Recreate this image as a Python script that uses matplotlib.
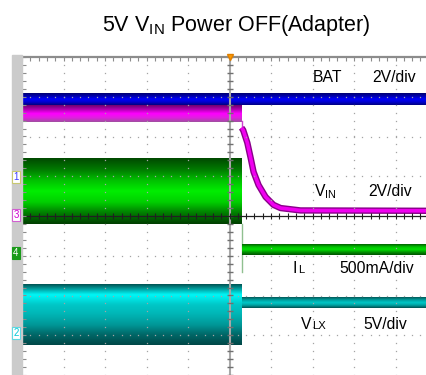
import numpy as np
import matplotlib.pyplot as plt
from matplotlib.colors import LinearSegmentedColormap
import matplotlib.patheffects as pe

plt.rcParams['font.family'] = ['Liberation Sans', 'DejaVu Sans']
plt.rcParams['mathtext.fontset'] = 'custom'
plt.rcParams['mathtext.rm'] = 'Liberation Sans'
plt.rcParams['mathtext.it'] = 'Liberation Sans:italic'

W, H = 427, 375

# Scope traces, in screen divisions (x: time div, y: volt div, 0 = centre)
t_switch = 0.29
bat_level = 2.94
vin_before = 2.58
vin_decay_t = [0.29, 0.33, 0.43, 0.51, 0.58, 0.70, 0.87, 1.06, 1.23, 1.71, 5.0]
vin_decay_v = [2.22, 2.16, 1.84, 1.46, 1.11, 0.78, 0.48, 0.28, 0.20, 0.14, 0.13]
il_before = (1.46, -0.20)     # noisy switching band: top, bottom
il_after = -0.86
vlx_before = (-1.74, -3.25)
vlx_after = -2.18

channel_labels = ['BAT', 'VIN', 'IL', 'VLX']
channel_scales = ['2V/div', '2V/div', '500mA/div', '5V/div']

fig = plt.figure(figsize=(W / 100, H / 100), dpi=100)
ax = fig.add_axes([22 / W, 0, (W - 22) / W, (H - 57) / H])
ax.set_xlim(-5, -5 + (W - 22) / 41.5)
ax.set_ylim(-4, 4)
ax.axis('off')


def band(t0, t1, top, bottom, colors, z=2):
    cmap = LinearSegmentedColormap.from_list('b', colors)
    grad = np.linspace(0, 1, 64).reshape(-1, 1)
    ax.imshow(grad, cmap=cmap, extent=[t0, t1, bottom, top], aspect='auto',
              interpolation='bilinear', origin='upper', zorder=z)


t_left, t_right = -5, 5

# BAT
band(t_left, t_right, bat_level + 0.15, bat_level - 0.15,
     ['#000070', '#0000b0', '#0000ff', '#0000d0', '#000080'], z=3)

# VIN
band(t_left, t_switch, vin_before + 0.2, vin_before - 0.22,
     ['#700070', '#b000b0', '#ff00ff', '#e020e0', '#a050a0'], z=2)
ax.plot([t_switch, t_switch], [vin_before - 0.2, vin_decay_v[0]], color='#d040d0', lw=1, zorder=2)
ax.plot(vin_decay_t, vin_decay_v, color='#f000f0', lw=2.6, solid_capstyle='butt', zorder=2,
        path_effects=[pe.Stroke(linewidth=4.6, foreground='#8a008a'), pe.Normal()])

# IL
band(t_left, t_switch, il_before[0], il_before[1],
     ['#004a00', '#007a00', '#00c000', '#00ee00', '#00d000', '#008000', '#004000'])
ax.plot([t_switch, t_switch], [il_before[1], -1.4], color='#90c090', lw=1, zorder=2)
band(t_switch, t_right, il_after + 0.13, il_after - 0.13,
     ['#006000', '#00c000', '#00e000', '#009000', '#005000'])

# VLX
band(t_left, t_switch, vlx_before[0], vlx_before[1],
     ['#005858', '#00f8f8', '#00c8c8', '#00b4b4', '#009898', '#006868', '#004848'])
band(t_switch, t_right, vlx_after + 0.13, vlx_after - 0.13,
     ['#005858', '#009c9c', '#00c8c8', '#00a0a0', '#005050'])

# graticule
dot_c = '#a4a4a4'
fine = np.arange(-5, 5.01, 0.2)
fine_y = np.arange(-4, 4.01, 0.2)
for gx in range(-4, 5):
    if gx != 0:
        ax.plot(np.full_like(fine_y, gx), fine_y, ls='none', marker='s', ms=0.9,
                color=dot_c, mec='none', zorder=5)
for gy in range(-3, 4):
    if gy != 0:
        ax.plot(fine, np.full_like(fine, gy), ls='none', marker='s', ms=0.9,
                color=dot_c, mec='none', zorder=5)

# centre cross with ticks
ax.axvline(0, color='#a8a8a8', lw=1.5, zorder=6)
ax.plot(np.zeros_like(fine_y), fine_y, ls='none', marker='_', ms=5, mew=1,
        color='#707070', zorder=6)
ax.axhline(0, color='#202020', lw=0.9, zorder=6)
ax.plot(fine, np.zeros_like(fine), ls='none', marker='|', ms=4, mew=0.8,
        color='#202020', zorder=6)

# frame
ax.axhline(4, color='#8c8c8c', lw=1.6, zorder=7, clip_on=False)
ax.plot(fine, np.full_like(fine, 3.95), ls='none', marker='|', ms=3, mew=0.8,
        color='#8c8c8c', zorder=7)
ax.axvline(-5, color='#7c7c7c', lw=1.2, zorder=7, clip_on=False)
ax.plot(np.full_like(fine_y, -4.96), fine_y, ls='none', marker='_', ms=3, mew=0.8,
        color='#8c8c8c', zorder=7)

# trigger marker
ax.plot([0], [4], marker='v', ms=5, color='#ff9900', mec='#e08000', clip_on=False, zorder=8)

# left strip
fig.patches.append(plt.Rectangle((12 / W, 0), 10 / W, 1 - 55 / H, transform=fig.transFigure,
                                 color='#cbcbcb', zorder=0))


def ptext(x, y, s, **kw):
    return fig.text(x / W, 1 - y / H, s, **kw)


markers = [('1', 177, 'white', '#3a3aff', '#c8c870'),
           ('3', 215, 'white', '#d000d0', '#d060d0'),
           ('4', 253, '#1a9a1a', 'white', '#1a9a1a'),
           ('2', 333, 'white', '#00c8d8', '#60d8e0')]
for num, yy, fc, tc, ec in markers:
    ptext(16, yy, num, fontsize=7, color=tc, ha='center', va='center', zorder=9,
          bbox=dict(boxstyle='square,pad=0.15', fc=fc, ec=ec, lw=0.8))

# title
ptext(236, 26, r'5V V$_{\mathrm{IN}}$ Power OFF(Adapter)', fontsize=15.5,
      ha='center', va='center')

# channel captions
fs = 11.3
ptext(313, 82, channel_labels[0], fontsize=fs, va='baseline')
ptext(372, 82, channel_scales[0], fontsize=fs, va='baseline')
ptext(314, 196, r'V$_{\mathrm{IN}}$', fontsize=fs, va='baseline')
ptext(368, 196, channel_scales[1], fontsize=fs, va='baseline')
ptext(293, 273, channel_labels[2][0], fontsize=fs, va='baseline')
ptext(298, 273, channel_labels[2][1:], fontsize=fs * 0.72, va='baseline')
ptext(339, 273, channel_scales[2], fontsize=fs, va='baseline')
ptext(301, 329, channel_labels[3][0], fontsize=fs, va='baseline')
ptext(312, 329, channel_labels[3][1:], fontsize=fs * 0.72, va='baseline')
ptext(363, 329, channel_scales[3], fontsize=fs, va='baseline')

fig.savefig('out.png', dpi=100)
